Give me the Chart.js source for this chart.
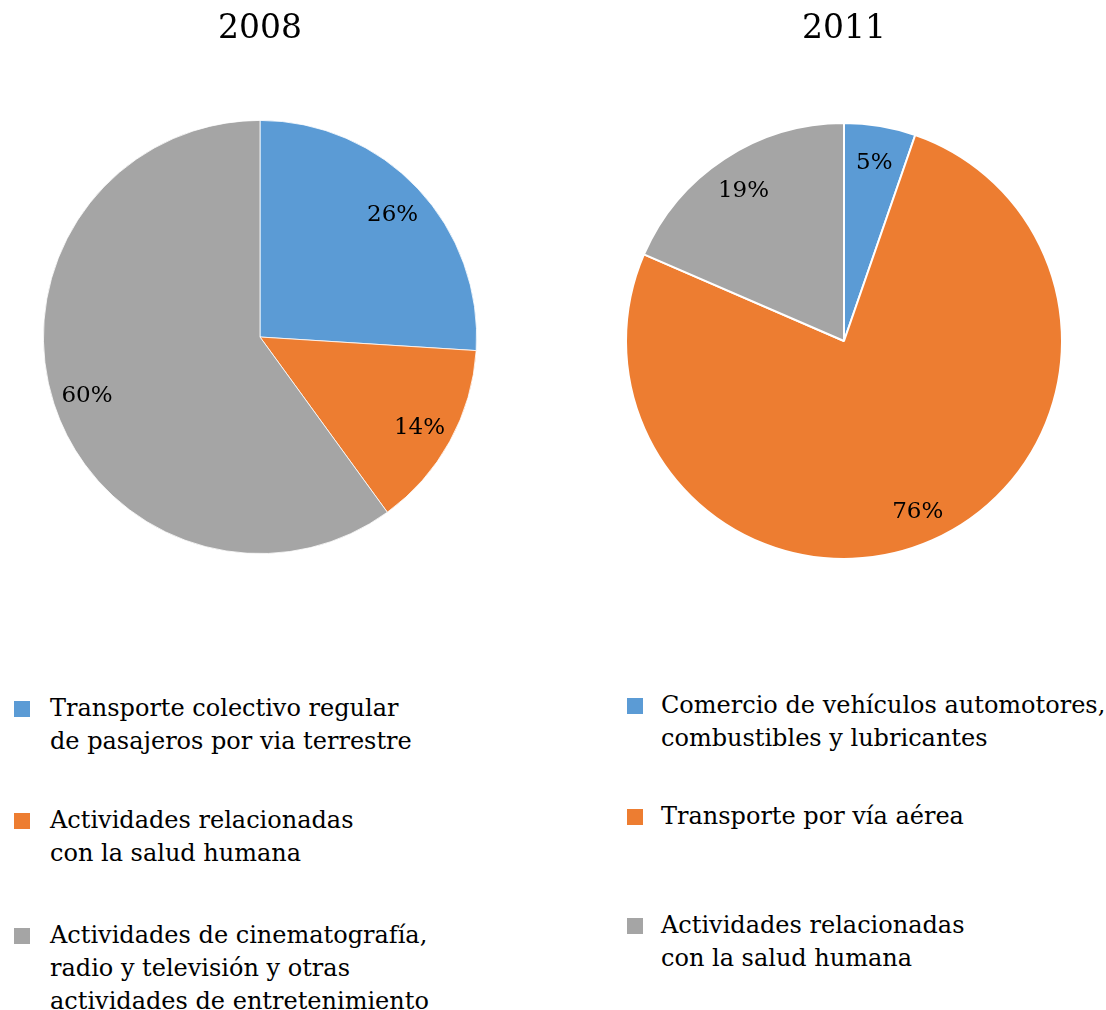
<!DOCTYPE html>
<html>
<head>
<meta charset="utf-8">
<script src="https://cdn.jsdelivr.net/npm/chart.js@4.4.0/dist/chart.umd.min.js"></script>
<style>
  body { margin: 0; background: #fff; width: 1106px; height: 1010px; position: relative; overflow: hidden; }
  .box { position: absolute; top: 0; width: 553px; height: 600px; }
  .legend { position: absolute; font-family: "DejaVu Serif", serif; font-size: 24px; line-height: 33px; color: #000; }
  .item { position: absolute; left: 0; white-space: nowrap; }
  .sw { position: absolute; width: 16px; height: 16px; top: 9px; }
  .txt { position: absolute; white-space: nowrap; }
</style>
</head>
<body>
<div class="box" style="left:0"><canvas id="pie-2008"></canvas></div>
<div class="box" style="left:553px"><canvas id="pie-2011"></canvas></div>
<div class="legend" id="legend-2008" style="left:14px; top:0"></div>
<div class="legend" id="legend-2011" style="left:627px; top:0"></div>
<script>
// Data
const colors = ['#5B9BD5', '#ED7D31', '#A5A5A5'];

const labels2008 = [
  ['Transporte colectivo regular', 'de pasajeros por via terrestre'],
  ['Actividades relacionadas', 'con la salud humana'],
  ['Actividades de cinematografía,', 'radio y televisión y otras', 'actividades de entretenimiento']
];
const values2008 = [26, 14, 60];

const labels2011 = [
  ['Comercio de vehículos automotores,', 'combustibles y lubricantes'],
  ['Transporte por vía aérea'],
  ['Actividades relacionadas', 'con la salud humana']
];
const values2011 = [5.3, 76.2, 18.5];

// legend rows (y of first line centre)
const legendRows2008 = [708, 820, 935];
const legendRows2011 = [705, 816, 925];

// Percentage labels inside slices
const pctLabels = {
  id: 'pctLabels',
  afterDatasetsDraw(chart) {
    const ctx = chart.ctx;
    const meta = chart.getDatasetMeta(0);
    const data = chart.data.datasets[0].data;
    const total = data.reduce((a, b) => a + b, 0);
    ctx.save();
    ctx.font = '23px "DejaVu Serif", serif';
    ctx.fillStyle = '#000';
    ctx.textAlign = 'center';
    ctx.textBaseline = 'middle';
    meta.data.forEach((arc, i) => {
      const p = arc.getProps(['x', 'y', 'startAngle', 'endAngle', 'outerRadius'], true);
      const mid = (p.startAngle + p.endAngle) / 2;
      const r = p.outerRadius * 0.84;
      const txt = Math.round(data[i] / total * 100) + '%';
      ctx.fillText(txt, p.x + Math.cos(mid) * r, p.y + Math.sin(mid) * r + 3);
    });
    ctx.restore();
  }
};

function makePie(id, title, labels, values, padding, titleBottom, border) {
  const ctx = document.getElementById(id).getContext('2d');
  return new Chart(ctx, {
    type: 'pie',
    data: {
      labels: labels.map(l => l.join(' ')),
      datasets: [{
        data: values,
        backgroundColor: colors,
        borderColor: '#fff',
        borderWidth: border
      }]
    },
    options: {
      responsive: true,
      maintainAspectRatio: false,
      animation: false,
      layout: { padding: padding },
      plugins: {
        legend: { display: false },
        tooltip: { enabled: false },
        title: {
          display: true,
          text: title,
          color: '#000',
          font: { family: '"DejaVu Serif", serif', size: 33, weight: 'normal', lineHeight: 1.2 },
          padding: { top: 10, bottom: titleBottom }
        }
      }
    },
    plugins: [pctLabels]
  });
}

function buildLegend(elId, labels, rows) {
  const el = document.getElementById(elId);
  labels.forEach((lines, i) => {
    const item = document.createElement('div');
    item.className = 'item';
    item.style.top = (rows[i] - 16.5) + 'px';
    const sw = document.createElement('div');
    sw.className = 'sw';
    sw.style.background = colors[i];
    const txt = document.createElement('div');
    txt.className = 'txt';
    txt.style.left = (elId === 'legend-2008' ? 36 : 34) + 'px';
    txt.innerHTML = lines.join('<br>');
    item.appendChild(sw);
    item.appendChild(txt);
    el.appendChild(item);
  });
}

// title block = 10 + 33*1.2 + bottom; chart area starts right after it
makePie('pie-2008', '2008', labels2008, values2008,
  { left: 43, right: 76, top: 0, bottom: 46 }, 120 - 49.6, 0.8);
makePie('pie-2011', '2011', labels2011, values2011,
  { left: 72, right: 43, top: 0, bottom: 40 }, 122 - 49.6, 2);

buildLegend('legend-2008', labels2008, legendRows2008);
buildLegend('legend-2011', labels2011, legendRows2011);
</script>
</body>
</html>
